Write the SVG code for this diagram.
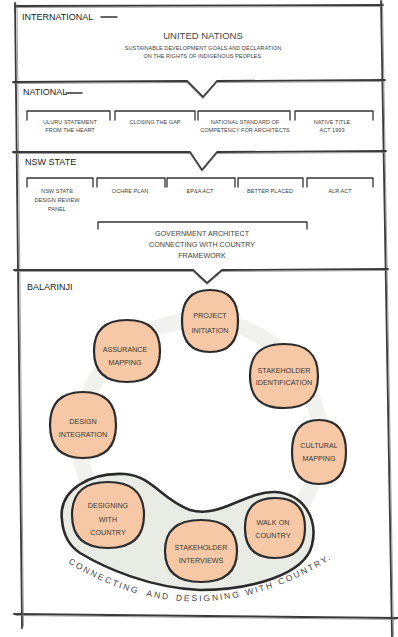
<svg xmlns="http://www.w3.org/2000/svg" width="398" height="637" viewBox="0 0 398 637">
<style>
.frame{fill:none;stroke:#3a3a3a;stroke-width:1.8;stroke-linecap:round;stroke-linejoin:round}
.sk{fill:none;stroke:#777;stroke-width:0.7;stroke-linecap:round}
.br{fill:none;stroke:#333;stroke-width:1.3;stroke-linecap:round;stroke-linejoin:round}
.t{font-family:"Liberation Sans",Arial,sans-serif;fill:#444;text-anchor:middle}
.s{font-size:5.6px}
.lab{font-family:"Liberation Sans",Arial,sans-serif;fill:#222;font-size:9px}
.blob{fill:#f6c8a5;stroke:#2b2b2b;stroke-width:2.2;stroke-linejoin:round}
.ct{font-family:"Liberation Sans",Arial,sans-serif;fill:#3a3a3a;font-size:7.2px;text-anchor:middle}
.arc{font-family:"Liberation Sans",Arial,sans-serif;font-size:8.5px;fill:#444;letter-spacing:2px}
</style>
<rect width="398" height="637" fill="#ffffff"/>

<g id="frame">
<path class="frame" d="M15,6 L383,5"/>
<path class="frame" d="M15,3 L22,628"/>
<path class="frame" d="M381,1 L392,637"/>
<path class="frame" d="M14,614 L398,618"/>
<path class="sk" d="M16,7.5 L382,6.5 M17,4 L23.5,626 M382.5,3 L393.5,636 M16,615.5 L396,619.5"/>
</g>

<g id="connectors">
<path class="frame" d="M13,82 L187,81 L203,97 L217,81 L385,80"/>
<path class="frame" d="M13,152 L190,152 L202,170 L217,152 L386,151"/>
<path class="frame" d="M14,270 L193,270 L207,283 L222,270 L388,269"/>
<path class="sk" d="M14,83.5 L187,82.5 L203,98.5 L217,82.5 L384,81.5 M14,153.5 L190,153.5 L202,171.5 L217,153.5 L385,152.5 M15,271.5 L193,271.5 L207,284.5 L222,271.5 L387,270.5"/>
</g>

<g id="international">
<text class="lab" x="22" y="20">INTERNATIONAL</text>
<path class="br" d="M101,17 L117,17"/>
<g id="united-nations">
<text class="t" x="203" y="39" font-size="9.5" fill="#222">UNITED NATIONS</text>
<text class="t s" x="203" y="50">SUSTAINABLE DEVELOPMENT GOALS AND DECLARATION</text>
<text class="t s" x="203" y="58">ON THE RIGHTS OF INDIGENOUS PEOPLES.</text>
</g>
</g>

<g id="national">
<text class="lab" x="23" y="95">NATIONAL</text>
<path class="br" d="M66,93 L82,93"/>
<g id="uluru">
<path class="br" d="M27,120 L27,111 L110,111 L110,120"/>
<text class="t s" x="70" y="124">ULURU STATEMENT</text>
<text class="t s" x="70" y="132">FROM THE HEART</text>
</g>
<g id="closing-the-gap">
<path class="br" d="M115,120 L115,111 L195,111 L195,120"/>
<text class="t s" x="155" y="124">CLOSING THE GAP</text>
</g>
<g id="national-standard">
<path class="br" d="M198,120 L198,111 L290,111 L290,120"/>
<text class="t s" x="245" y="124">NATIONAL STANDARD OF</text>
<text class="t s" x="245" y="132">COMPETENCY FOR ARCHITECTS</text>
</g>
<g id="native-title">
<path class="br" d="M295,120 L295,111 L373,111 L373,120"/>
<text class="t s" x="332" y="124">NATIVE TITLE</text>
<text class="t s" x="332" y="132">ACT 1993</text>
</g>
</g>

<g id="nsw-state">
<text class="lab" x="25" y="165" font-size="8">NSW STATE</text>
<g id="design-review-panel">
<path class="br" d="M27,187 L27,178 L93,178 L93,187"/>
<text class="t s" x="57" y="193">NSW STATE</text>
<text class="t s" x="57" y="202">DESIGN REVIEW</text>
<text class="t s" x="57" y="211">PANEL</text>
</g>
<g id="ochre-plan">
<path class="br" d="M97,187 L97,178 L165,178 L165,187"/>
<text class="t s" x="130" y="193">OCHRE PLAN</text>
</g>
<g id="epa-act">
<path class="br" d="M167,187 L167,178 L235,178 L235,187"/>
<text class="t s" x="200" y="193">EP&amp;A ACT</text>
</g>
<g id="better-placed">
<path class="br" d="M238,187 L238,178 L303,178 L303,187"/>
<text class="t s" x="270" y="193">BETTER PLACED</text>
</g>
<g id="alr-act">
<path class="br" d="M307,187 L307,178 L373,178 L373,187"/>
<text class="t s" x="340" y="193">ALR ACT</text>
</g>
<g id="connecting-framework">
<path class="br" d="M98,229 L98,222 L307,222 L307,229"/>
<text class="t" x="202" y="236" font-size="7.2">GOVERNMENT ARCHITECT</text>
<text class="t" x="202" y="247" font-size="7.2">CONNECTING WITH COUNTRY</text>
<text class="t" x="202" y="258" font-size="7.2">FRAMEWORK</text>
</g>
</g>

<g id="balarinji">
<text class="lab" x="27" y="290" font-size="12">BALARINJI</text>
<circle cx="200" cy="440" r="120" fill="none" stroke="#f1f1ef" stroke-width="16"/>
<g id="connecting-designing">
<path d="M62,520 C58,490 90,472 125,474 C152,476 162,500 190,510 C220,519 245,491 275,492 C305,494 318,520 312,545 C305,575 250,590 200,590 C150,588 105,568 80,553 C68,545 63,533 62,520 Z" fill="#e9ebe5" stroke="#2b2b2b" stroke-width="2.6" stroke-linejoin="round"/>
<path id="arcpath" d="M68,563 Q200,643 336,556" fill="none"/>
<text class="arc"><textPath href="#arcpath" startOffset="0">CONNECTING</textPath></text>
<text class="arc"><textPath href="#arcpath" startOffset="85">AND</textPath></text>
<text class="arc"><textPath href="#arcpath" startOffset="115">DESIGNING</textPath></text>
<text class="arc"><textPath href="#arcpath" startOffset="186">WITH</textPath></text>
<text class="arc"><textPath href="#arcpath" startOffset="221">COUNTRY.</textPath></text>
</g>
<g id="project-initiation">
<path class="blob" d="M182,321 C182,300 191,290 210,290 C229,290 238,300 238,321 C238,342 229,352 210,352 C191,352 182,342 182,321Z"/>
<text class="ct" x="210" y="318">PROJECT</text>
<text class="ct" x="210" y="333">INITIATION</text>
</g>
<g id="assurance-mapping">
<path class="blob" d="M94,351 C94,330 105,320 127,320 C149,320 160,330 160,351 C160,372 149,382 127,382 C105,382 94,372 94,351Z"/>
<text class="ct" x="125" y="352">ASSURANCE</text>
<text class="ct" x="125" y="365">MAPPING</text>
</g>
<g id="stakeholder-identification">
<path class="blob" d="M250,376 C250,354 261,344 284,344 C307,344 318,354 318,376 C318,398 307,408 284,408 C261,408 250,398 250,376Z"/>
<text class="ct" x="284" y="373" font-size="6.6">STAKEHOLDER</text>
<text class="ct" x="284" y="385" font-size="6.6">IDENTIFICATION</text>
</g>
<g id="design-integration">
<path class="blob" d="M50,425 C50,403 61,392 83,392 C105,392 116,403 116,425 C116,447 105,458 83,458 C61,458 50,447 50,425Z"/>
<text class="ct" x="83" y="424">DESIGN</text>
<text class="ct" x="83" y="437">INTEGRATION</text>
</g>
<g id="cultural-mapping">
<path class="blob" d="M292,452 C292,430 301,420 319,420 C337,420 346,430 346,452 C346,474 337,484 319,484 C301,484 292,474 292,452Z"/>
<text class="ct" x="319" y="448">CULTURAL</text>
<text class="ct" x="319" y="461">MAPPING</text>
</g>
<g id="designing-with-country">
<path class="blob" d="M72,515 C72,493 84,482 108,482 C132,482 144,493 144,515 C144,537 132,548 108,548 C84,548 72,537 72,515Z"/>
<text class="ct" x="108" y="508" font-size="8">DESIGNING</text>
<text class="ct" x="108" y="522" font-size="8">WITH</text>
<text class="ct" x="108" y="535" font-size="8">COUNTRY</text>
</g>
<g id="stakeholder-interviews">
<path class="blob" d="M165,551 C165,530 177,520 201,520 C225,520 237,530 237,551 C237,572 225,582 201,582 C177,582 165,572 165,551Z"/>
<text class="ct" x="201" y="550" font-size="7">STAKEHOLDER</text>
<text class="ct" x="201" y="563" font-size="7">INTERVIEWS</text>
</g>
<g id="walk-on-country">
<path class="blob" d="M245,528 C245,508 255,498 275,498 C295,498 305,508 305,528 C305,548 295,558 275,558 C255,558 245,548 245,528Z"/>
<text class="ct" x="273" y="525">WALK ON</text>
<text class="ct" x="273" y="538">COUNTRY</text>
</g>
</g>
</svg>
